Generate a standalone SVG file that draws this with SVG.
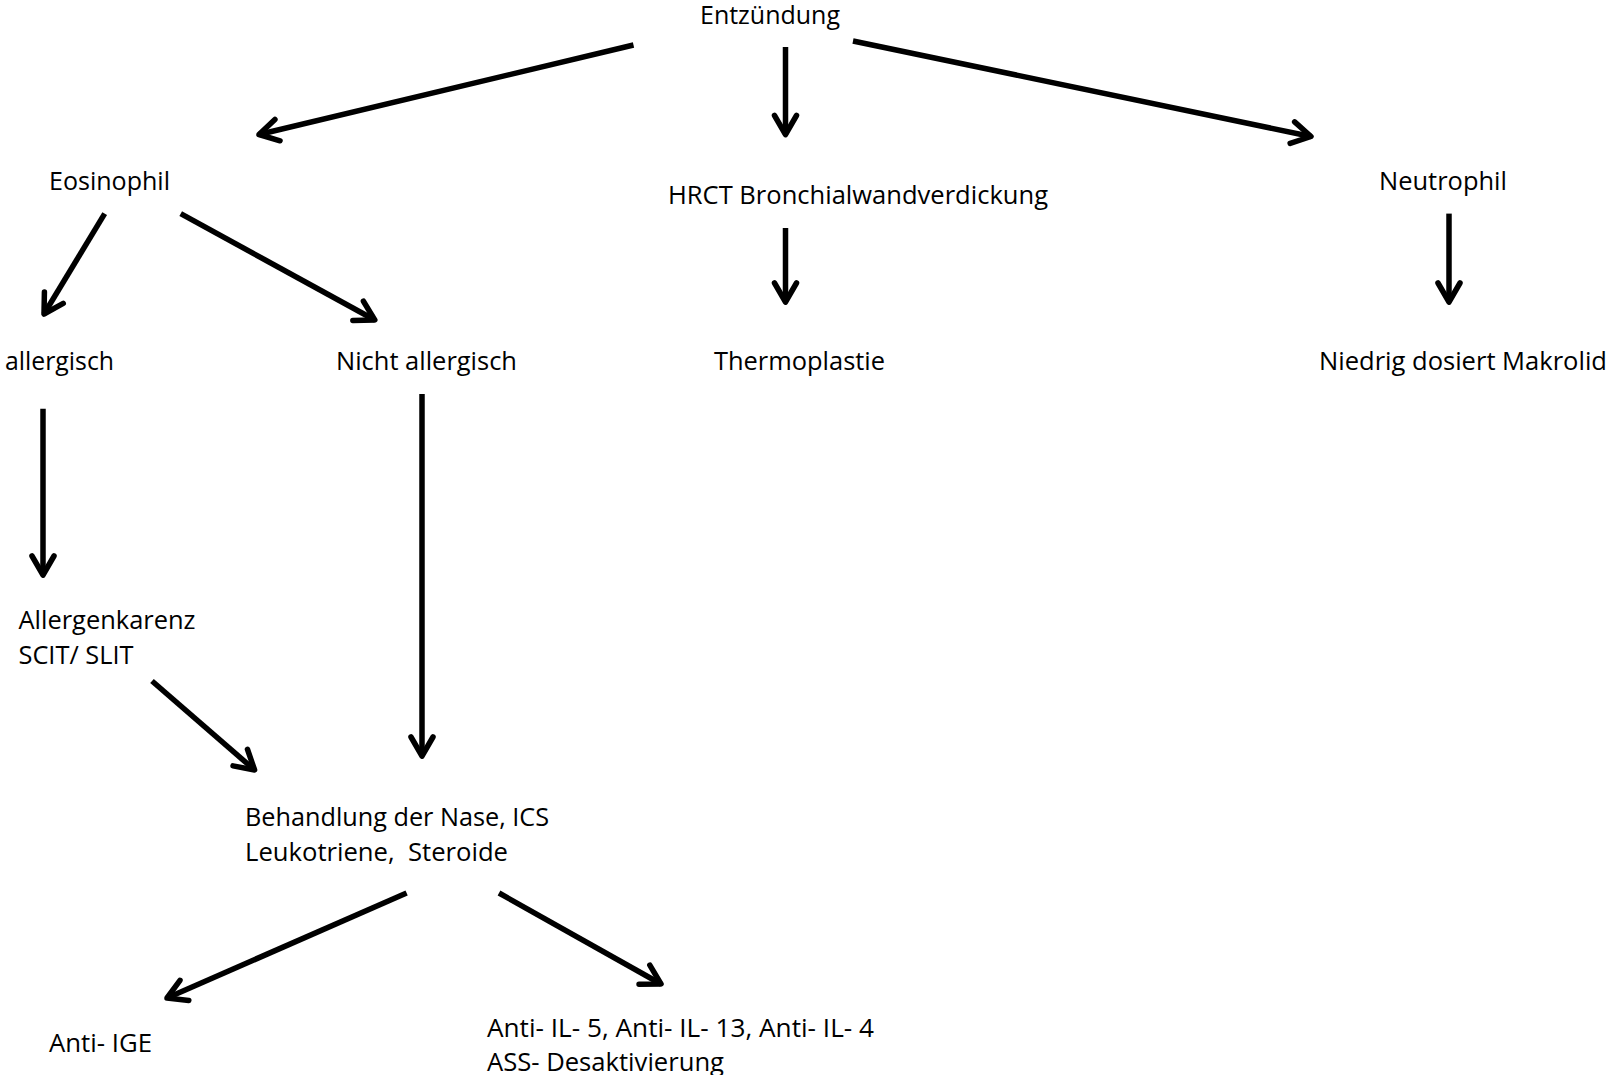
<svg xmlns="http://www.w3.org/2000/svg" width="1610" height="1075" viewBox="0 0 1610 1075">
<style>
text{font-family:"Open Sans","Noto Sans","Liberation Sans",sans-serif;font-size:25px;fill:#000;}
.c line{stroke:#000;stroke-width:5.5;fill:none;marker-end:url(#ah);}
</style>
<defs>
<marker id="ah" markerUnits="userSpaceOnUse" orient="auto" refX="0" refY="0" markerWidth="40" markerHeight="40" viewBox="-25 -20 30 40" overflow="visible">
<path d="M-19,-11 L0,0 L-19,11" fill="none" stroke="#000" stroke-width="5.5" stroke-linejoin="round" stroke-linecap="round"/>
</marker>
</defs>
<rect width="1610" height="1075" fill="#fff"/>
<g id="n-entzuendung"><text x="700" y="24" textLength="140" lengthAdjust="spacingAndGlyphs">Entzündung</text></g>
<g id="n-eosinophil"><text x="49" y="190" textLength="121" lengthAdjust="spacingAndGlyphs">Eosinophil</text></g>
<g id="n-hrct"><text x="668" y="204" textLength="380" lengthAdjust="spacingAndGlyphs">HRCT Bronchialwandverdickung</text></g>
<g id="n-neutrophil"><text x="1379" y="190" textLength="128" lengthAdjust="spacingAndGlyphs">Neutrophil</text></g>
<g id="n-allergisch"><text x="5" y="370" textLength="109" lengthAdjust="spacingAndGlyphs">allergisch</text></g>
<g id="n-nicht-allergisch"><text x="336" y="370" textLength="181" lengthAdjust="spacingAndGlyphs">Nicht allergisch</text></g>
<g id="n-thermoplastie"><text x="714" y="370" textLength="171" lengthAdjust="spacingAndGlyphs">Thermoplastie</text></g>
<g id="n-makrolid"><text x="1319" y="370" textLength="288" lengthAdjust="spacingAndGlyphs">Niedrig dosiert Makrolid</text></g>
<g id="n-allergenkarenz"><text x="18.5" y="629" textLength="177" lengthAdjust="spacingAndGlyphs">Allergenkarenz</text><text x="18.5" y="664" textLength="115" lengthAdjust="spacingAndGlyphs">SCIT/ SLIT</text></g>
<g id="n-behandlung"><text x="245" y="826" textLength="304" lengthAdjust="spacingAndGlyphs">Behandlung der Nase, ICS</text><text x="245" y="861" textLength="263" lengthAdjust="spacingAndGlyphs" xml:space="preserve">Leukotriene,  Steroide</text></g>
<g id="n-anti-ige"><text x="49" y="1052" textLength="103" lengthAdjust="spacingAndGlyphs">Anti- IGE</text></g>
<g id="n-anti-il"><text x="487" y="1037" textLength="387" lengthAdjust="spacingAndGlyphs">Anti- IL- 5, Anti- IL- 13, Anti- IL- 4</text><text x="487" y="1071" textLength="237" lengthAdjust="spacingAndGlyphs">ASS- Desaktivierung</text></g>
<g id="connectors" class="c">
<line x1="633.5" y1="45" x2="259" y2="134.5"/>
<line x1="785.5" y1="47" x2="785.5" y2="134.5"/>
<line x1="853" y1="41" x2="1311" y2="136.5"/>
<line x1="104.7" y1="213.6" x2="44" y2="314"/>
<line x1="180.7" y1="213.6" x2="374.8" y2="320"/>
<line x1="785.5" y1="228" x2="785.5" y2="302"/>
<line x1="1449" y1="213.6" x2="1449" y2="302"/>
<line x1="43" y1="408.7" x2="43" y2="575"/>
<line x1="422" y1="394" x2="422" y2="756"/>
<line x1="152" y1="681" x2="254.6" y2="770"/>
<line x1="406.6" y1="893" x2="167" y2="998"/>
<line x1="499" y1="893" x2="661" y2="984"/>
</g>
</svg>
